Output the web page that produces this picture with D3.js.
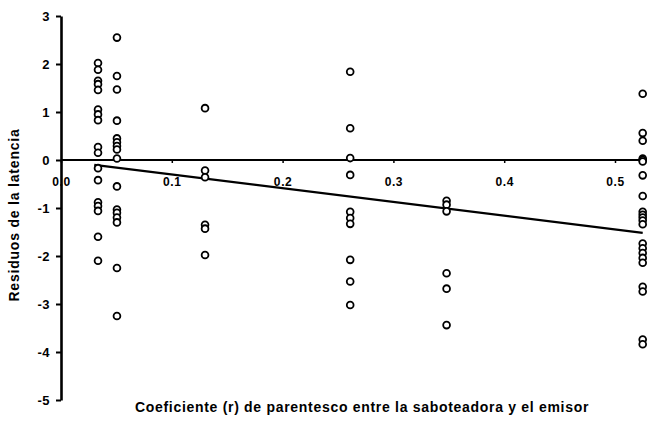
<!DOCTYPE html>
<html><head><meta charset="utf-8">
<script src="https://cdn.jsdelivr.net/npm/d3@7"></script>
<style>body{margin:0;background:#fff;}svg{display:block;font-family:Arial,"Liberation Sans",sans-serif;}</style>
</head><body><svg id="c" width="656" height="433"></svg>
<script>
const colX = [0.0334, 0.0505, 0.130, 0.261, 0.348, 0.525];
const col1Y = [2.02, 1.88, 1.65, 1.58, 1.46, 1.05, 0.95, 0.83, 0.27, 0.15, -0.17, -0.42, -0.88, -0.96, -1.06, -1.6, -2.1];
const col2Y = [2.55, 1.75, 1.47, 0.82, 0.45, 0.37, 0.29, 0.22, 0.03, -0.55, -1.03, -1.1, -1.2, -1.3, -2.25, -3.25];
const col3Y = [1.08, -0.22, -0.36, -1.35, -1.43, -1.98];
const col4Y = [1.84, 0.66, 0.04, -0.31, -1.08, -1.21, -1.33, -2.08, -2.53, -3.02];
const col5Y = [-0.85, -0.93, -1.07, -2.36, -2.68, -3.44];
const col6Y = [1.38, 0.56, 0.4, 0.03, 0.0, -0.03, -0.32, -0.75, -1.08, -1.14, -1.2, -1.26, -1.34, -1.74, -1.84, -1.94, -2.04, -2.14, -2.64, -2.74, -3.74, -3.84];
const lineX = [0.03, 0.525];
const lineY = [-0.1, -1.52];
const xTicks = [0, 0.1, 0.2, 0.3, 0.4, 0.5];
const yTicks = [3, 2, 1, 0, -1, -2, -3, -4, -5];
const xTitle = "Coeficiente (r) de parentesco entre la saboteadora y el emisor";
const yTitle = "Residuos de la latencia";

const svg = d3.select("#c");
const x = d3.scaleLinear().domain([0, 0.5]).range([61, 615]);
const y = d3.scaleLinear().domain([-5, 3]).range([400, 16]);

// y axis
const ya = svg.append("g").attr("transform", `translate(${x(0)},0)`)
  .call(d3.axisLeft(y).tickValues(yTicks).tickSize(5).tickSizeOuter(0).tickPadding(6).tickFormat(d => String(d)));
ya.select(".domain").attr("stroke", "#000").attr("stroke-width", 2.6);
ya.selectAll(".tick line").attr("stroke", "#000").attr("stroke-width", 2);
ya.selectAll("text").attr("font-size", 13).attr("font-weight", "bold").attr("fill", "#000").attr("letter-spacing", 0.5);

// x axis at y=0
const xa = svg.append("g").attr("transform", `translate(0,${y(0)})`)
  .call(d3.axisBottom(x).tickValues(xTicks).tickSize(3).tickSizeOuter(0).tickPadding(14).tickFormat(d => d.toFixed(1)));
xa.select(".domain").attr("stroke", "#000").attr("stroke-width", 2).attr("d", `M${x(0)},0H${x(0.526)}`);
xa.selectAll(".tick line").attr("stroke", "#000").attr("stroke-width", 1.5);
xa.selectAll("text").attr("font-size", 12).attr("font-weight", "bold").attr("fill", "#000").attr("letter-spacing", 0.6);

// regression line
svg.append("path")
  .attr("d", d3.line().x(d => x(d[0])).y(d => y(d[1]))(lineX.map((v, i) => [v, lineY[i]])))
  .attr("stroke", "#000").attr("stroke-width", 2.2).attr("fill", "none");

// points
const cols = [col1Y, col2Y, col3Y, col4Y, col5Y, col6Y];
const pts = [];
cols.forEach((arr, i) => arr.forEach(v => pts.push([colX[i], v])));
svg.append("g").selectAll("circle").data(pts).join("circle")
  .attr("cx", d => x(d[0])).attr("cy", d => y(d[1])).attr("r", 3.4)
  .attr("fill", "#fff").attr("stroke", "#000").attr("stroke-width", 1.8);

// titles
svg.append("text").attr("x", 362).attr("y", 412).attr("text-anchor", "middle")
  .attr("font-size", 14).attr("font-weight", "bold").attr("letter-spacing", 0.7).text(xTitle);
svg.append("text").attr("transform", "translate(19,215) rotate(-90)").attr("text-anchor", "middle")
  .attr("font-size", 14).attr("font-weight", "bold").attr("letter-spacing", 0.8).text(yTitle);
</script></body></html>
